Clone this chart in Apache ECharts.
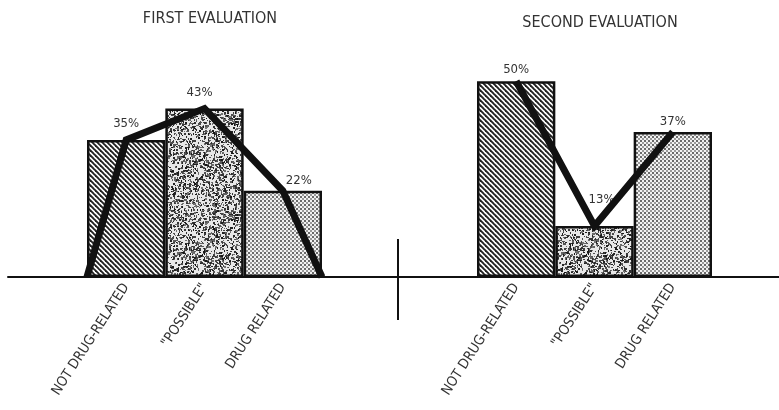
<!DOCTYPE html>
<html><head><meta charset="utf-8">
<script src="https://cdn.jsdelivr.net/npm/echarts@6/dist/echarts.min.js"></script>
<style>html,body{margin:0;padding:0;background:#fff;}#c{width:779px;height:410px;}</style>
</head><body><div id="c"></div>
<script>
// ---- data ----
const categories = ['NOT DRUG-RELATED', '"POSSIBLE"', 'DRUG RELATED'];
const titles = ['FIRST EVALUATION', 'SECOND EVALUATION'];
const firstValues = [35, 43, 22];
const secondValues = [50, 13, 37];
// polygon lines (x in category units, 0..3)
const firstLine = [[0, 0], [0.5, 35], [1.5, 43], [2.5, 22], [3, 0]];
const secondLine = [[0.5, 50], [1.5, 13], [2.5, 37]];

// ---- patterns ----
function hatch() {
  const s = 5, c = document.createElement('canvas'); c.width = s; c.height = s;
  const g = c.getContext('2d'); g.fillStyle = '#fff'; g.fillRect(0, 0, s, s);
  g.strokeStyle = '#222'; g.lineWidth = 1.9;
  [[-s, 0], [0, 0], [s, 0]].forEach(([ox]) => { g.beginPath(); g.moveTo(ox - 1, -1); g.lineTo(ox + s + 1, s + 1); g.stroke(); });
  return c;
}
function speckle() {
  const s = 96, c = document.createElement('canvas'); c.width = s; c.height = s;
  const g = c.getContext('2d'); g.fillStyle = '#e8e8e8'; g.fillRect(0, 0, s, s);
  let seed = 12345; const rnd = () => { seed = (seed * 1103515245 + 12345) & 0x7fffffff; return seed / 0x7fffffff; };
  for (let i = 0; i < 2400; i++) {
    const x = Math.floor(rnd() * s), y = Math.floor(rnd() * s);
    const v = 20 + Math.floor(rnd() * 100);
    g.fillStyle = 'rgb(' + v + ',' + v + ',' + v + ')';
    g.fillRect(x, y, 1 + Math.floor(rnd() * 2), 1 + Math.floor(rnd() * 2));
  }
  return c;
}
function dots() {
  const s = 4, c = document.createElement('canvas'); c.width = s; c.height = s;
  const g = c.getContext('2d'); g.fillStyle = '#f2f2f2'; g.fillRect(0, 0, s, s);
  g.fillStyle = '#6a6a6a'; g.fillRect(0, 0, 2, 2); g.fillStyle = '#9a9a9a'; g.fillRect(2, 2, 2, 2);
  return c;
}
const fills = [
  { image: hatch(), repeat: 'repeat' },
  { image: speckle(), repeat: 'repeat' },
  { image: dots(), repeat: 'repeat' }
];

const FONT = '"Liberation Sans Narrow", "DejaVu Sans Condensed", sans-serif';
const firstLabelCfg = [{ distance: 10 }, { distance: 9, offset: [-5, 0] }, { distance: 4, offset: [16, 0] }];
const secondLabelCfg = [{ distance: 5 }, { distance: 20, offset: [7, 0] }, { distance: 4 }];

function barData(values, cfg) {
  return values.map((v, i) => ({ value: v, itemStyle: { color: fills[i] }, label: cfg[i] }));
}

const catAxis = (gi) => ({
  type: 'category', gridIndex: gi, data: categories,
  axisLine: { show: false }, axisTick: { show: false },
  axisLabel: { rotate: 57, margin: 8, fontSize: 14, color: '#333', fontFamily: FONT, interval: 0 }
});
const valX = (gi) => ({ type: 'value', gridIndex: gi, min: 0, max: 3, show: false });
const valY = (gi) => ({ type: 'value', gridIndex: gi, min: 0, max: 60, show: false });

const barStyle = { borderColor: '#111', borderWidth: 2.5 };
const labelBase = { show: true, position: 'top', formatter: '{c}%', fontSize: 13, color: '#333', fontFamily: FONT };
const lineStyle = { width: 7, color: '#111', cap: 'butt', join: 'miter' };
const titleStyle = { fontSize: 16, fontWeight: 'normal', color: '#333', fontFamily: FONT };

const chart = echarts.init(document.getElementById('c'), null, { renderer: 'canvas' });
chart.setOption({
  backgroundColor: '#fff',
  animation: false,
  title: [
    { text: titles[0], left: 205, top: 6, textAlign: 'center', textStyle: titleStyle },
    { text: titles[1], left: 595, top: 10, textAlign: 'center', textStyle: titleStyle }
  ],
  grid: [
    { left: 87, width: 235, top: 42, height: 235 },
    { left: 477, width: 235, top: 42, height: 235 },
    { left: 8, right: 0, top: 42, height: 235 }
  ],
  xAxis: [
    catAxis(0), valX(0), catAxis(1), valX(1),
    { type: 'value', gridIndex: 2, min: 0, max: 1, axisLine: { show: true, onZero: false, lineStyle: { color: '#111', width: 2 } }, axisTick: { show: false }, axisLabel: { show: false }, splitLine: { show: false } }
  ],
  yAxis: [valY(0), valY(1), { type: 'value', gridIndex: 2, min: 0, max: 1, show: false }],
  series: [
    { type: 'bar', xAxisIndex: 0, yAxisIndex: 0, data: barData(firstValues, firstLabelCfg), barCategoryGap: '0%', itemStyle: barStyle, label: labelBase, z: 2 },
    { type: 'line', xAxisIndex: 1, yAxisIndex: 0, data: firstLine, symbol: 'none', lineStyle: lineStyle, z: 3 },
    { type: 'bar', xAxisIndex: 2, yAxisIndex: 1, data: barData(secondValues, secondLabelCfg), barCategoryGap: '0%', itemStyle: barStyle, label: labelBase, z: 2 },
    { type: 'line', xAxisIndex: 3, yAxisIndex: 1, data: secondLine, symbol: 'none', lineStyle: lineStyle, z: 3 }
  ],
  graphic: [
    { type: 'line', shape: { x1: 398, y1: 239, x2: 398, y2: 320 }, style: { stroke: '#111', lineWidth: 2 } }
  ]
});
</script></body></html>
